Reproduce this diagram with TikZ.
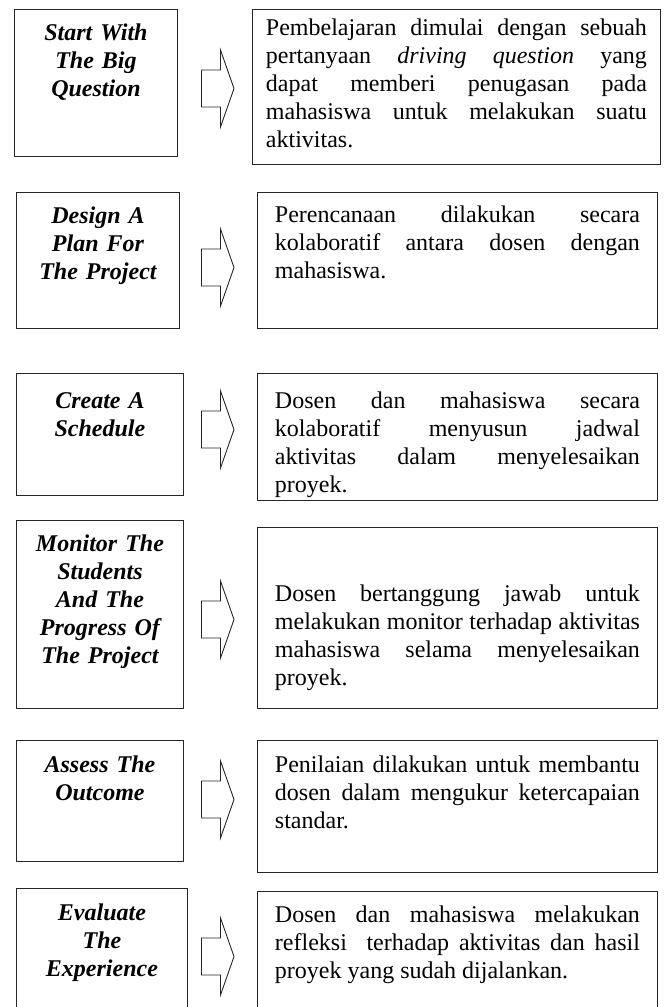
\documentclass[tikz,border=0pt]{standalone}
\usepackage{fontspec}
\setmainfont{Liberation Serif}
\usepackage{tikz}
\usetikzlibrary{positioning}

\begin{document}
\begin{tikzpicture}[x=1pt, y=-1pt,
judul/.style={rectangle, draw=black!85, line width=0.9pt, text width=#1, inner xsep=0pt, inner ysep=0pt, anchor=north west, align=center, font=\fontsize{24}{28}\selectfont\bfseries\itshape},
isi/.style={rectangle, draw=black!85, line width=0.9pt, text width=#1, inner xsep=17.5pt, inner ysep=0pt, anchor=north west, align=justify, font=\fontsize{24}{28}\selectfont, execute at begin node={\tolerance=10000\relax\hbadness=10000\relax\hyphenpenalty=10000\relax}},
panah/.pic={\draw[black!85, line width=0.9pt] (-16.5,-18.5) -- (2.5,-18.5) -- (2.5,-38.5) -- (16,0) -- (2.5,38.5) -- (2.5,18.5) -- (-16.5,18.5) -- cycle;}
]
	\useasboundingbox (0,0) rectangle (665,1007);
	\clip (0,0) rectangle (665,1007);

	\node[judul=163pt, text height=31pt, text depth=116pt] (j1) at (14,9) {Start With\\The Big\\Question};
	\node[isi=381pt, inner xsep=13.5pt, text height=26pt, text depth=129pt] (i1) at (252,9) {Pembelajaran dimulai dengan sebuah\linebreak pertanyaan \textit{driving question} yang\linebreak dapat memberi penugasan pada\linebreak mahasiswa untuk melakukan suatu\linebreak aktivitas.};

	\node[judul=163pt, text height=31pt, text depth=105pt] (j2) at (16,192) {Design A\\Plan For\\The Project};
	\node[isi=365pt, text height=30pt, text depth=106pt] (i2) at (257,192) {Perencanaan dilakukan secara\linebreak kolaboratif antara dosen dengan\linebreak mahasiswa.};

	\node[judul=167pt, text height=35pt, text depth=87pt] (j3) at (16,373) {Create A\\Schedule};
	\node[isi=365pt, text height=35pt, text depth=92pt] (i3) at (257,373) {Dosen dan mahasiswa secara\linebreak kolaboratif menyusun jadwal\linebreak aktivitas dalam menyelesaikan\linebreak proyek.};

	\node[judul=167pt, text height=31pt, text depth=157pt] (j4) at (16,520) {Monitor The\\Students\\And The\\Progress Of\\The Project};
	\node[isi=365pt, text height=74pt, text depth=107pt] (i4) at (257,527) {Dosen bertanggung jawab untuk\linebreak melakukan monitor terhadap aktivitas\linebreak mahasiswa selama menyelesaikan\linebreak proyek.};

	\node[judul=167pt, text height=32pt, text depth=89pt] (j5) at (16,740) {Assess The\\Outcome};
	\node[isi=365pt, text height=32pt, text depth=100pt] (i5) at (257,740) {Penilaian dilakukan untuk membantu\linebreak dosen dalam mengukur ketercapaian\linebreak standar.};

	\node[judul=171pt, text height=32pt, text depth=120pt] (j6) at (16,888) {Evaluate\\The\\Experience};
	\node[isi=365pt, text height=31pt, text depth=118pt] (i6) at (257,891) {Dosen dan mahasiswa melakukan\linebreak refleksi\ \ terhadap aktivitas dan hasil\linebreak proyek yang sudah dijalankan.};

	\pic at (218,88.5) {panah};
	\pic at (218,267.5) {panah};
	\pic at (218,429.5) {panah};
	\pic at (218,619.5) {panah};
	\pic at (218,799.5) {panah};
	\pic at (218,956.5) {panah};
\end{tikzpicture}
\end{document}
